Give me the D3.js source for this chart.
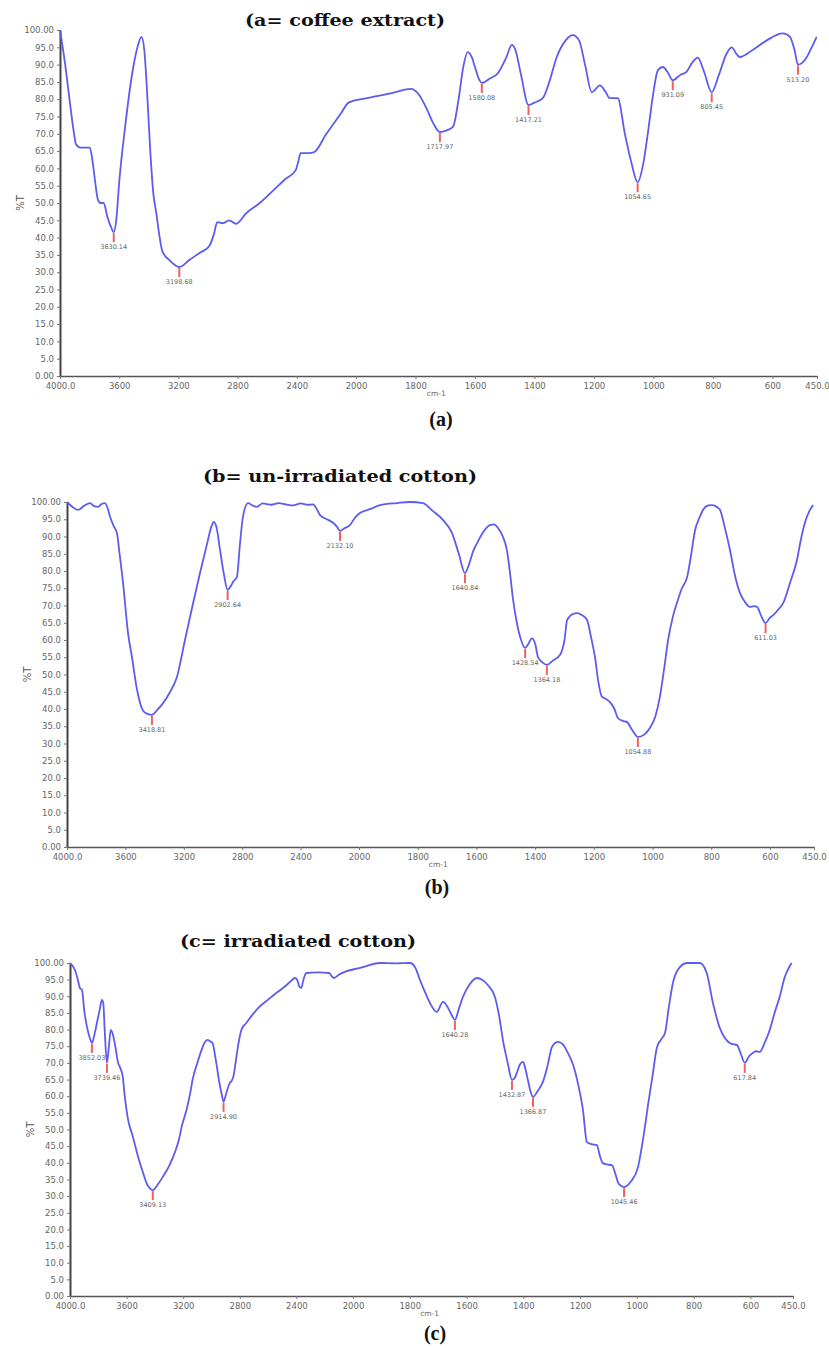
<!DOCTYPE html>
<html>
<head>
<meta charset="utf-8">
<script src="https://cdn.jsdelivr.net/npm/d3@7"></script>
<style>
  body { margin: 0; background: #fff; }
  svg { display: block; }
</style>
</head>
<body>
<div id="chart"></div>
<script>
// FTIR spectra: [wavenumber cm-1, %T]
var coffeeSpectrum = [
  [4000, 100], [3965, 90], [3933, 79], [3905, 70], [3892, 67], [3860, 66], [3832, 66], [3798, 66],
  [3780, 62], [3765, 57], [3744, 51], [3725, 50], [3705, 50], [3680, 46], [3655, 43], [3637, 41.6],
  [3620, 45], [3600, 56], [3560, 72], [3510, 88], [3470, 96], [3449, 98], [3430, 94], [3416, 85.5],
  [3390, 65], [3370, 53], [3349, 47], [3330, 41], [3308, 36], [3261, 33.5], [3194, 31.5], [3126, 33.5],
  [3060, 35.5], [2992, 37.5], [2960, 41], [2938, 44.5], [2900, 44.2], [2857, 45], [2811, 44], [2743, 47],
  [2650, 50], [2550, 54], [2475, 57], [2407, 59.5], [2390, 62], [2374, 64.4], [2320, 64.4], [2286, 64.6],
  [2200, 70], [2100, 76], [2050, 79], [1963, 80.3], [1876, 81.8], [1815, 83], [1790, 81.5], [1761, 77],
  [1740, 73], [1718, 70.5], [1695, 71], [1674, 72], [1655, 80], [1640, 89], [1624, 93.6], [1610, 92],
  [1600, 89.3], [1585, 85.5], [1577, 84.7], [1550, 86], [1523, 87.5], [1495, 92], [1476, 95.7], [1465, 94.5],
  [1445, 87], [1420, 78.3], [1400, 79], [1372, 80.3], [1350, 85], [1325, 92.2], [1295, 97], [1271, 98.5],
  [1250, 97], [1230, 90], [1207, 82], [1180, 84], [1160, 82], [1147, 80.3], [1120, 80.3], [1096, 70],
  [1075, 62], [1053, 56], [1035, 61], [1019, 70], [1000, 82], [985, 88.4], [968, 89.3], [950, 87.5],
  [935, 85.5], [910, 87], [888, 88], [870, 90.5], [851, 92], [830, 88], [804, 82], [780, 87],
  [755, 93], [737, 95], [720, 93], [710, 92.2], [670, 94], [619, 97], [565, 99], [541, 98],
  [525, 94], [514, 90], [500, 90.5], [484, 92.2], [465, 95.5], [451, 98]
];

var uncottonSpectrum = [
  [4000, 100], [3960, 98.5], [3925, 97.7], [3880, 99], [3842, 99.7], [3815, 98.8], [3788, 98.6], [3760, 99.5],
  [3740, 99.7], [3720, 98], [3705, 95.7], [3680, 93], [3658, 91], [3640, 85], [3616, 76.5], [3582, 62],
  [3555, 55], [3520, 45.5], [3479, 39.5], [3450, 38.6], [3418, 38.3], [3380, 39.8], [3342, 41.7], [3300, 44.5],
  [3247, 49.3], [3192, 60], [3140, 70], [3089, 79.4], [3040, 88], [3010, 93], [2995, 94.2], [2975, 92.5],
  [2955, 87], [2925, 79], [2900, 74.5], [2880, 75.5], [2860, 77], [2836, 78.3], [2815, 88], [2795, 95.7],
  [2760, 99.7], [2730, 99], [2699, 98.6], [2660, 99.6], [2600, 99.2], [2550, 99.7], [2500, 99.3], [2450, 99],
  [2400, 99.6], [2350, 99.2], [2315, 99.3], [2290, 98], [2267, 96.2], [2220, 95], [2178, 94], [2150, 92.8],
  [2130, 91.6], [2100, 92.4], [2062, 93.3], [2030, 95.3], [1997, 96.8], [1960, 98], [1928, 99.1], [1870, 99.7],
  [1826, 100], [1782, 99.7], [1750, 97.5], [1714, 94.8], [1683, 91], [1660, 85], [1639, 79.4], [1625, 82],
  [1610, 86], [1598, 88], [1575, 91.5], [1554, 93.3], [1540, 93.5], [1526, 92.4], [1510, 90], [1496, 86],
  [1485, 79], [1475, 71.6], [1460, 64], [1451, 60.9], [1434, 57.7], [1422, 59], [1411, 60.5], [1400, 59],
  [1390, 55], [1375, 53.5], [1360, 52.8], [1340, 54], [1315, 55.7], [1300, 60], [1291, 65.8], [1270, 67.6],
  [1257, 67.8], [1240, 67.2], [1223, 65.8], [1210, 61], [1196, 55], [1185, 48], [1172, 43.5], [1160, 43],
  [1145, 42], [1130, 40], [1118, 37.4], [1100, 36.5], [1087, 36.2], [1070, 34], [1050, 31.9], [1030, 32.5],
  [1009, 34.5], [990, 38], [975, 43.5], [960, 52], [947, 60], [930, 67], [917, 70.7], [900, 75],
  [882, 78.3], [868, 85], [855, 91.9], [840, 95.5], [828, 97.7], [810, 99], [797, 99.1], [780, 98.5],
  [770, 97.7], [755, 93], [736, 86], [720, 79], [702, 73.6], [685, 71], [668, 69.6], [655, 69.8],
  [644, 69.6], [630, 67], [615, 64.9], [600, 66.5], [589, 67.2], [570, 69], [555, 70.7], [530, 77],
  [508, 83.2], [495, 89], [481, 94], [465, 97.5], [453, 99.1]
];

var irrcottonSpectrum = [
  [4000, 100], [3980, 99], [3965, 97.9], [3945, 95], [3930, 92.5], [3915, 91.9], [3900, 86], [3880, 80.8],
  [3860, 77.5], [3845, 76], [3830, 78], [3810, 82], [3790, 86], [3775, 88.9], [3765, 88], [3755, 80],
  [3739, 70], [3725, 75], [3712, 79.9], [3700, 79], [3680, 75], [3660, 70], [3648, 68.8], [3627, 65.8],
  [3613, 60], [3592, 53.5], [3556, 47.9], [3520, 42], [3486, 37.3], [3455, 33.5], [3437, 32.4], [3415, 31.8],
  [3380, 33.5], [3345, 35.7], [3300, 39], [3261, 42.9], [3230, 47], [3211, 50.8], [3176, 56], [3150, 61],
  [3134, 64.9], [3100, 70], [3070, 73.9], [3050, 76], [3028, 76.9], [3010, 76.5], [2993, 76], [2970, 71],
  [2944, 64], [2925, 60], [2915, 58.3], [2895, 61], [2870, 64], [2859, 64.5], [2845, 66], [2820, 73],
  [2800, 78], [2789, 79.9], [2754, 82], [2700, 85], [2662, 86.8], [2600, 89], [2542, 91], [2480, 93],
  [2430, 94.9], [2410, 95.5], [2395, 95], [2380, 93], [2366, 92.5], [2350, 95], [2331, 97], [2250, 97.2],
  [2169, 97], [2150, 96], [2134, 95.5], [2100, 96.5], [2050, 97.5], [1975, 98.5], [1905, 100], [1850, 99.9],
  [1799, 100], [1780, 98.5], [1764, 94.9], [1745, 91], [1729, 88], [1705, 85.3], [1683, 88.3], [1665, 86.5],
  [1650, 84], [1641, 82.9], [1628, 86], [1613, 89.8], [1590, 93.5], [1563, 95.5], [1545, 95], [1525, 93.4],
  [1500, 89.8], [1485, 84], [1472, 76.9], [1455, 70], [1440, 64.9], [1430, 65.5], [1423, 67], [1412, 69.5],
  [1401, 70.3], [1392, 68], [1384, 64.9], [1375, 61.5], [1366, 59.8], [1350, 61.5], [1331, 64.3], [1315, 69],
  [1299, 74.8], [1278, 76.3], [1260, 75.5], [1243, 73], [1225, 69.5], [1208, 64], [1190, 55.9], [1176, 46.2],
  [1160, 45.6], [1141, 45.3], [1130, 42], [1120, 39.9], [1105, 39.5], [1088, 39.3], [1075, 36.5], [1067, 34.2],
  [1055, 33], [1045, 32.7], [1020, 34.5], [996, 38.7], [975, 48.9], [958, 58.9], [945, 66], [929, 74.8],
  [915, 77], [901, 79], [887, 87], [873, 94], [856, 97.9], [824, 100], [800, 100], [778, 100],
  [754, 97], [732, 88], [708, 80.5], [690, 77.5], [673, 76], [660, 75.6], [648, 75.4], [635, 73],
  [620, 70], [605, 72], [592, 73], [580, 73.5], [567, 73.3], [550, 76], [532, 79.9], [515, 85],
  [497, 89.8], [479, 95.8], [465, 98.5], [455, 100]
];

// picked peaks (wavenumber position, printed label)
var coffeePeaks = [3637, 3194, 1718, 1577, 1420, 1053, 935, 804, 514];
var coffeePeakLabels = ['3630.14', '3198.68', '1717.97', '1580.08', '1417.21', '1054.65', '931.09', '805.45', '513.20'];
var uncottonPeaks = [3418, 2900, 2130, 1639, 1434, 1360, 1050, 615];
var uncottonPeakLabels = ['3418.81', '2902.64', '2132.10', '1640.84', '1428.54', '1364.18', '1054.88', '611.03'];
var irrcottonPeaks = [3845, 3739, 3415, 2915, 1641, 1440, 1366, 1045, 620];
var irrcottonPeakLabels = ['3852.03', '3739.46', '3409.13', '2914.90', '1640.28', '1432.87', '1366.87', '1045.46', '617.84'];

var xTicks = [4000, 3600, 3200, 2800, 2400, 2000, 1800, 1600, 1400, 1200, 1000, 800, 600, 450];
var yTicks = d3.range(0, 101, 5);

var width = 829, height = 1348;

var svg = d3.select('#chart').append('svg')
  .attr('width', width)
  .attr('height', height);

var panels = [
  {title: '(a= coffee extract)', tag: '(a)', data: coffeeSpectrum, peaks: coffeePeaks, labels: coffeePeakLabels,
   x0: 60, xBreak: 356, x1: 817, yTop: 30, yBot: 376, titleX: 345, titleY: 26, titleW: 200, tagX: 441, tagY: 426},
  {title: '(b= un-irradiated cotton)', tag: '(b)', data: uncottonSpectrum, peaks: uncottonPeaks, labels: uncottonPeakLabels,
   x0: 67, xBreak: 359, x1: 814, yTop: 502, yBot: 847, titleX: 340, titleY: 482, titleW: 274, tagX: 437, tagY: 894},
  {title: '(c= irradiated cotton)', tag: '(c)', data: irrcottonSpectrum, peaks: irrcottonPeaks, labels: irrcottonPeakLabels,
   x0: 70, xBreak: 353, x1: 793, yTop: 963, yBot: 1296, titleX: 298, titleY: 947, titleW: 236, tagX: 435, tagY: 1340}
];

var fmtY = function(d) {
  if (d === 100) return '100.00';
  if (d === 0) return '0.00';
  return d.toFixed(1);
};
var fmtX = function(d) {
  return (d === 4000 || d === 450) ? d.toFixed(1) : String(d);
};

panels.forEach(function(p) {
  // spectrometer axis: scale changes at 2000 cm-1
  var x = d3.scaleLinear().domain([4000, 2000, 450]).range([p.x0, p.xBreak, p.x1]);
  var y = d3.scaleLinear().domain([0, 100]).range([p.yBot, p.yTop]);
  var g = svg.append('g');

  g.append('text')
    .text(p.title)
    .attr('x', p.titleX)
    .attr('y', p.titleY)
    .attr('text-anchor', 'middle')
    .attr('textLength', p.titleW)
    .attr('lengthAdjust', 'spacingAndGlyphs')
    .attr('font-family', 'DejaVu Serif, serif')
    .attr('font-weight', 'bold')
    .attr('font-size', '17px')
    .attr('fill', '#111');

  var yAxis = g.append('g')
    .attr('transform', 'translate(' + p.x0 + ',0)')
    .call(d3.axisLeft(y).tickValues(yTicks).tickFormat(fmtY).tickSize(3).tickPadding(3).tickSizeOuter(0));
  yAxis.select('.domain').attr('stroke', '#444').attr('stroke-width', 2);
  yAxis.selectAll('.tick line').attr('stroke', '#777');
  yAxis.selectAll('text').attr('fill', '#666').attr('font-size', '8.5px').attr('font-family', 'DejaVu Sans, sans-serif');

  var xAxis = g.append('g')
    .attr('transform', 'translate(0,' + p.yBot + ')')
    .call(d3.axisBottom(x).tickValues(xTicks).tickFormat(fmtX).tickSize(3).tickPadding(4).tickSizeOuter(0));
  xAxis.select('.domain').attr('stroke', '#555').attr('stroke-width', 1.5);
  xAxis.selectAll('.tick line').attr('stroke', '#777');
  xAxis.selectAll('text').attr('fill', '#666').attr('font-size', '8.5px').attr('font-family', 'DejaVu Sans, sans-serif');

  g.append('text')
    .text('cm-1')
    .attr('x', x(1730))
    .attr('y', p.yBot + 20)
    .attr('text-anchor', 'middle')
    .attr('font-family', 'DejaVu Sans, sans-serif')
    .attr('font-size', '7.5px')
    .attr('fill', '#666');

  var my = (p.yTop + p.yBot) / 2;
  g.append('text')
    .text('%T')
    .attr('transform', 'translate(' + (p.x0 - 36) + ',' + my + ') rotate(-90)')
    .attr('text-anchor', 'middle')
    .attr('font-family', 'DejaVu Sans, sans-serif')
    .attr('font-size', '10px')
    .attr('fill', '#555');

  var line = d3.line()
    .x(function(d) { return x(d[0]); })
    .y(function(d) { return y(d[1]); })
    .curve(d3.curveMonotoneX);

  g.append('path')
    .datum(p.data)
    .attr('d', line)
    .attr('fill', 'none')
    .attr('stroke', '#5c5cf0')
    .attr('stroke-width', 1.8)
    .attr('stroke-linejoin', 'round');

  // peak markers
  var lookup = function(wn) {
    var best = p.data[0];
    p.data.forEach(function(d) {
      if (Math.abs(d[0] - wn) < Math.abs(best[0] - wn)) best = d;
    });
    return best[1];
  };
  var pk = g.selectAll('g.peak').data(p.peaks).enter().append('g').attr('class', 'peak');
  pk.append('line')
    .attr('x1', function(d) { return x(d); })
    .attr('x2', function(d) { return x(d); })
    .attr('y1', function(d) { return y(lookup(d)) + 1; })
    .attr('y2', function(d) { return y(lookup(d)) + 10; })
    .attr('stroke', '#f06060')
    .attr('stroke-width', 2);
  pk.append('text')
    .text(function(d, i) { return p.labels[i]; })
    .attr('x', function(d) { return x(d); })
    .attr('y', function(d) { return y(lookup(d)) + 17; })
    .attr('text-anchor', 'middle')
    .attr('font-family', 'DejaVu Sans, sans-serif')
    .attr('font-size', '6.5px')
    .attr('fill', '#666');

  g.append('text')
    .text(p.tag)
    .attr('x', p.tagX)
    .attr('y', p.tagY)
    .attr('text-anchor', 'middle')
    .attr('font-family', 'Liberation Serif, serif')
    .attr('font-weight', 'bold')
    .attr('font-size', '20px')
    .attr('fill', '#111');
});
</script>
</body>
</html>
